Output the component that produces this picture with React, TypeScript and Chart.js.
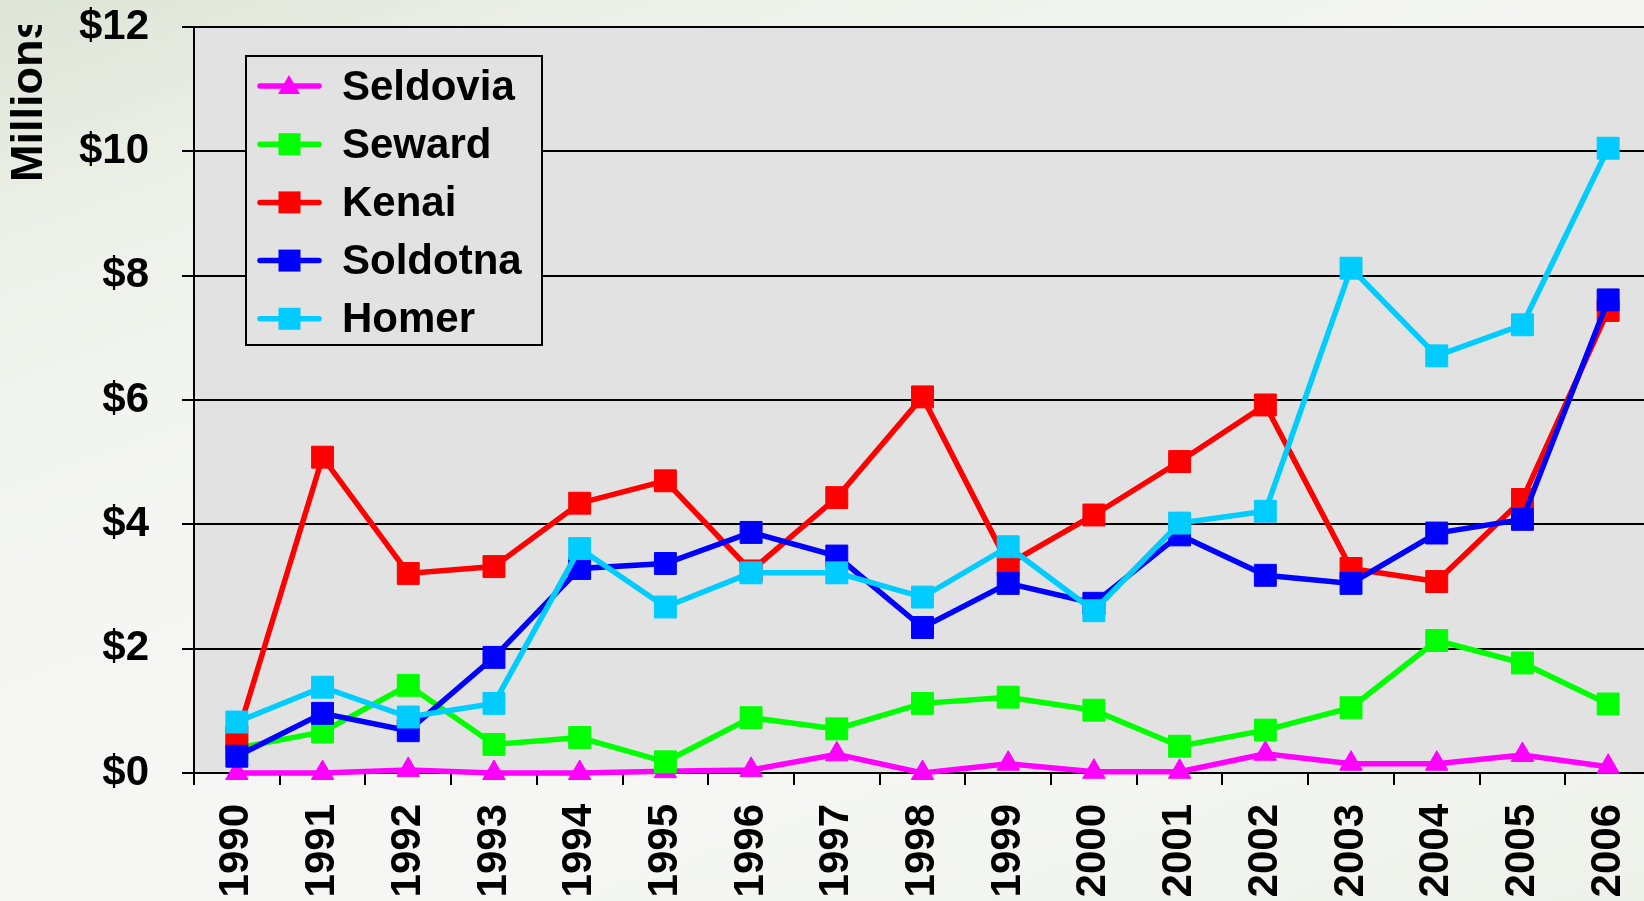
import React, { useEffect, useRef } from "react";
import { Chart, registerables } from "chart.js";

Chart.register(...registerables);

const years = ["1990", "1991", "1992", "1993", "1994", "1995", "1996", "1997", "1998", "1999", "2000", "2001", "2002", "2003", "2004", "2005", "2006"];
const seldovia = [0, 0, 0.05, 0, 0, 0.03, 0.05, 0.3, 0, 0.15, 0.02, 0.02, 0.31, 0.15, 0.15, 0.29, 0.1];
const seward = [0.4, 0.66, 1.41, 0.46, 0.57, 0.18, 0.89, 0.71, 1.12, 1.22, 1.01, 0.43, 0.69, 1.05, 2.13, 1.77, 1.11];
const kenai = [0.58, 5.08, 3.21, 3.32, 4.34, 4.7, 3.25, 4.43, 6.05, 3.36, 4.15, 5.01, 5.92, 3.29, 3.08, 4.4, 7.44];
const soldotna = [0.27, 0.96, 0.68, 1.86, 3.29, 3.37, 3.87, 3.49, 2.34, 3.05, 2.73, 3.83, 3.18, 3.05, 3.86, 4.08, 7.61];
const homer = [0.82, 1.38, 0.9, 1.12, 3.61, 2.67, 3.22, 3.22, 2.83, 3.64, 2.61, 4.02, 4.21, 8.12, 6.71, 7.21, 10.05];
const yTicks = [0, 2, 4, 6, 8, 10, 12];

const FONT = '"Liberation Sans", Arial, sans-serif';
const PLOT_FILL = "#e2e2e2";

const plotBg = {
  id: "plotBg",
  beforeDraw(chart: any) {
    const { ctx, chartArea } = chart;
    ctx.save();
    ctx.fillStyle = PLOT_FILL;
    ctx.fillRect(chartArea.left, chartArea.top, chartArea.right - chartArea.left, chartArea.bottom - chartArea.top);
    ctx.restore();
  },
};

const customLegend = {
  id: "customLegend",
  afterDraw(chart: any) {
    const ctx = chart.ctx;
    ctx.save();
    ctx.fillStyle = PLOT_FILL;
    ctx.fillRect(246, 56, 296, 289);
    ctx.lineWidth = 2;
    ctx.strokeStyle = "#000";
    ctx.strokeRect(246, 56, 296, 289);
    chart.data.datasets.forEach((ds: any, i: number) => {
      const y = 86 + i * 58.2;
      ctx.strokeStyle = ds.borderColor;
      ctx.lineWidth = 5.5;
      ctx.lineCap = "round";
      ctx.beginPath();
      ctx.moveTo(260, y);
      ctx.lineTo(319, y);
      ctx.stroke();
      ctx.fillStyle = ds.borderColor;
      if (ds.pointStyle === "triangle") {
        ctx.beginPath();
        ctx.moveTo(289, y - 11);
        ctx.lineTo(300, y + 8);
        ctx.lineTo(278, y + 8);
        ctx.closePath();
        ctx.fill();
      } else {
        ctx.fillRect(278.5, y - 11, 22, 22);
      }
      ctx.fillStyle = "#000";
      ctx.font = `bold 42px ${FONT}`;
      ctx.textBaseline = "middle";
      ctx.textAlign = "left";
      ctx.fillText(ds.label, 342, y + 2);
    });
    // axis title "Millions"
    ctx.beginPath();
    ctx.rect(0, 25, 120, 200);
    ctx.clip();
    ctx.translate(29, 182);
    ctx.rotate(-Math.PI / 2);
    ctx.font = `bold 45px ${FONT}`;
    ctx.textAlign = "left";
    ctx.textBaseline = "middle";
    ctx.fillStyle = "#000";
    ctx.fillText("Millions", 0, 1);
    ctx.restore();
  },
};

function mk(label: string, data: number[], color: string, style: string, order: number) {
  return {
    label,
    data,
    borderColor: color,
    backgroundColor: color,
    borderWidth: 5.5,
    pointStyle: style,
    pointRadius: style === "triangle" ? 13 : 15.5,
    pointBackgroundColor: color,
    pointBorderColor: color,
    pointBorderWidth: 1,
    tension: 0,
    clip: false as any,
    order,
  };
}

export default function App() {
  const ref = useRef<HTMLCanvasElement | null>(null);
  useEffect(() => {
    if (!ref.current) return;
    const chart = new Chart(ref.current, {
      type: "line",
      data: {
        labels: years,
        datasets: [
          mk("Seldovia", seldovia, "#ff00ff", "triangle", 4),
          mk("Seward", seward, "#00ff00", "rect", 3),
          mk("Kenai", kenai, "#ff0000", "rect", 2),
          mk("Soldotna", soldotna, "#0000ff", "rect", 1),
          mk("Homer", homer, "#00ccff", "rect", 0),
        ] as any,
      },
      options: {
        responsive: false,
        animation: false,
        devicePixelRatio: 1,
        layout: { padding: { top: 27, right: 49, left: 0, bottom: 0 } },
        plugins: { legend: { display: false }, tooltip: { enabled: false } },
        scales: {
          x: {
            type: "category",
            offset: true,
            grid: {
              display: true,
              drawOnChartArea: false,
              drawTicks: true,
              tickLength: 12,
              offset: true,
              color: "#000",
              lineWidth: 2,
            },
            border: { display: true, color: "#000", width: 2 },
            ticks: {
              autoSkip: false,
              minRotation: 90,
              maxRotation: 90,
              padding: 19,
              color: "#000",
              font: { family: FONT, size: 42, weight: "bold" },
            },
            afterFit(scale: any) {
              scale.height = 128;
              scale.paddingLeft = 0;
              scale.paddingRight = 0;
            },
          },
          y: {
            min: 0,
            max: 12,
            afterBuildTicks(scale: any) {
              scale.ticks = yTicks.map((v) => ({ value: v }));
            },
            grid: {
              display: true,
              drawOnChartArea: true,
              drawTicks: true,
              tickLength: 12,
              color: "#000",
              lineWidth: 2,
            },
            border: { display: true, color: "#000", width: 2 },
            ticks: {
              padding: 33,
              color: "#000",
              font: { family: FONT, size: 42, weight: "bold" },
              callback: (v: any) => `$${v}`,
            },
            afterFit(scale: any) {
              scale.width = 194;
              scale.paddingTop = 0;
              scale.paddingBottom = 0;
            },
          },
        },
      },
      plugins: [plotBg, customLegend],
    });
    return () => chart.destroy();
  }, []);

  return (
    <div
      style={{
        position: "fixed",
        left: 0,
        top: 0,
        width: 1644,
        height: 901,
        overflow: "hidden",
        background:
          "linear-gradient(160deg, #dde5d6 0%, #eef1ea 18%, #f5f6f3 40%, #f6f7f4 70%, #eef1ea 100%)",
      }}
    >
      <canvas ref={ref} width={1700} height={901} style={{ display: "block" }} />
    </div>
  );
}
